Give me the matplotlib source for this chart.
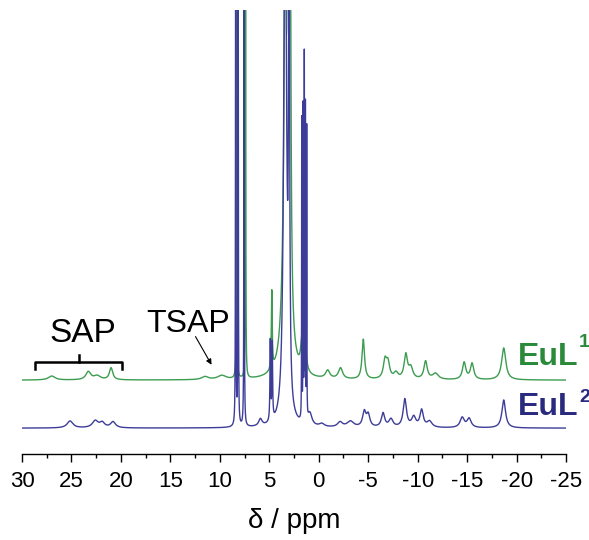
import matplotlib.pyplot as plt
import numpy as np

plt.rcParams['font.family'] = ['Liberation Sans', 'DejaVu Sans']
plt.rcParams['axes.unicode_minus'] = False

# Peak list: shift (ppm), height, half width (ppm)
eul1_pos = [27.0, 23.3, 22.4, 21.0, 11.5, 9.8,
            8.3, 7.4, 4.75, 3.3, 2.9, 1.7, 1.4,
            -0.9, -2.2, -4.5, -6.7, -7.0, -7.8, -8.8, -9.3, -10.8, -11.8,
            -14.7, -15.5, -18.7]
eul1_height = [4, 8, 4, 12, 3, 4,
               600, 600, 78, 600, 500, 28, 32,
               8, 11, 40, 18, 15, 6, 24, 11, 18, 6,
               17, 16, 32]
eul1_width = [0.4, 0.3, 0.4, 0.2, 0.4, 0.5,
              0.02, 0.02, 0.05, 0.2, 0.08, 0.15, 0.15,
              0.25, 0.25, 0.15, 0.2, 0.2, 0.25, 0.2, 0.25, 0.2, 0.35,
              0.2, 0.2, 0.25]

eul2_pos = [25.15, 22.6, 21.9, 20.8,
            8.4, 8.15, 7.55, 5.9, 4.9, 4.7, 3.4, 3.0,
            1.72, 1.58, 1.46, 1.35, 1.22, 0.9, -0.3,
            -2.15, -3.2, -4.6, -5.0, -6.5, -7.3, -8.7, -9.6, -10.4, -11.2,
            -14.5, -15.2, -18.7]
eul2_height = [7, 7, 5, 6,
               600, 600, 600, 7, 80, 76, 600, 500,
               300, 310, 360, 310, 290, 12, 3,
               5, 6, 15, 12, 14, 8, 28, 10, 17, 6,
               10, 9, 28]
eul2_width = [0.35, 0.35, 0.3, 0.3,
              0.02, 0.02, 0.02, 0.2, 0.04, 0.04, 0.15, 0.06,
              0.015, 0.015, 0.015, 0.015, 0.015, 0.25, 0.3,
              0.3, 0.4, 0.2, 0.2, 0.2, 0.25, 0.2, 0.25, 0.2, 0.3,
              0.25, 0.25, 0.22]

eul1_offset = 74
eul2_offset = 26
xticks = [30, 25, 20, 15, 10, 5, 0, -5, -10, -15, -20, -25]

green = '#3c9c50'
blue = '#3d3d99'


def spectrum(x, pos, height, width):
    y = np.zeros_like(x)
    for p, h, w in zip(pos, height, width):
        y += h / (1 + ((x - p) / w) ** 2)
    return y


ppm = np.linspace(30, -25, 22001)
y1 = spectrum(ppm, eul1_pos, eul1_height, eul1_width) + eul1_offset
y2 = spectrum(ppm, eul2_pos, eul2_height, eul2_width) + eul2_offset

fig = plt.figure(figsize=(5.89, 5.40), dpi=100)
ax = fig.add_axes([0.0374, 0.159, 0.9236, 0.822])

ax.plot(ppm, y1, color=green, lw=1.0)
ax.plot(ppm, y2, color=blue, lw=1.0)

ax.set_xlim(30, -25)
ax.set_ylim(0, 444)
for s in ['left', 'right', 'top']:
    ax.spines[s].set_visible(False)
ax.spines['bottom'].set_linewidth(1.0)
ax.set_yticks([])
ax.set_xticks(xticks)
ax.set_xticks(np.arange(27.5, -25, -5), minor=True)
ax.tick_params(axis='x', which='major', direction='out', length=6, width=1.0,
               labelsize=16, pad=6)
ax.tick_params(axis='x', which='minor', direction='out', length=3, width=1.0)
ax.set_xlabel('δ / ppm', fontsize=20, labelpad=12)

# SAP bracket
ax.plot([28.7, 28.7, 19.9, 19.9], [85, 92, 92, 85], color='black', lw=1.8)
ax.plot([24.2, 24.2], [92, 99], color='black', lw=1.8)
ax.text(23.9, 112, 'SAP', fontsize=24, ha='center', va='baseline')
ax.text(13.2, 122, 'TSAP', fontsize=23, ha='center', va='baseline')
ax.annotate('', xy=(10.7, 87), xytext=(12.6, 120),
            arrowprops=dict(arrowstyle='-|>', color='black', lw=0.8,
                            mutation_scale=8))

ax.text(-20.15, 89, 'EuL', fontsize=23, fontweight='bold', color='#2a8a3a',
        ha='left', va='baseline')
ax.text(-26.3, 107, '1', fontsize=14, fontweight='bold', color='#2a8a3a',
        ha='left', va='baseline')
ax.text(-20.15, 39, 'EuL', fontsize=23, fontweight='bold', color='#2a2a7f',
        ha='left', va='baseline')
ax.text(-26.3, 52, '2', fontsize=14, fontweight='bold', color='#2a2a7f',
        ha='left', va='baseline')

fig.savefig('out.png', dpi=100)
